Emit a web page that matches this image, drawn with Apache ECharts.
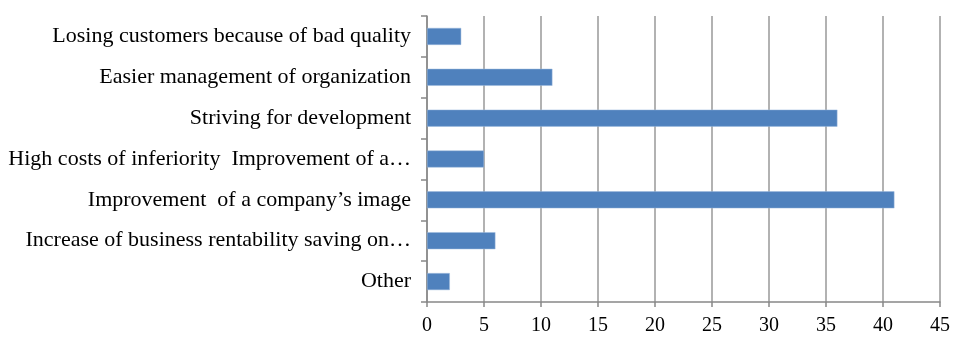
<!DOCTYPE html>
<html>
<head>
<meta charset="utf-8">
<script src="https://cdn.jsdelivr.net/npm/echarts@6/dist/echarts.min.js"></script>
<style>
  html, body { margin: 0; padding: 0; background: #fff; }
  #chart { width: 957px; height: 342px; }
</style>
</head>
<body>
<div id="chart"></div>
<script>
// categories, top to bottom
var categories = [
  'Losing customers because of bad quality',
  'Easier management of organization',
  'Striving for development',
  'High costs of inferiority  Improvement of a…',
  'Improvement  of a company’s image',
  'Increase of business rentability saving on…',
  'Other'
]
var values = [3, 11, 36, 5, 41, 6, 2]
var xMin = 0
var xMax = 45
var xStep = 5

var chart = echarts.init(document.getElementById('chart'))
chart.setOption({
  animation: false,
  textStyle: { fontFamily: 'Liberation Serif' },
  grid: { left: 427, right: 17, top: 16, bottom: 40 },
  xAxis: {
    type: 'value',
    min: xMin,
    max: xMax,
    interval: xStep,
    axisLine: { show: true, lineStyle: { color: '#888', width: 1.5 } },
    axisTick: { show: true, length: 5, lineStyle: { color: '#888', width: 1.5 } },
    axisLabel: { color: '#000', fontSize: 20, margin: 14, fontFamily: 'Liberation Serif' },
    splitLine: { show: true, lineStyle: { color: '#999', width: 1.5 } }
  },
  yAxis: {
    type: 'category',
    inverse: true,
    data: categories,
    axisLine: { show: true, lineStyle: { color: '#888', width: 1.5 } },
    axisTick: { show: true, length: 6, lineStyle: { color: '#888', width: 1.5 } },
    axisLabel: { color: '#000', fontSize: 22, margin: 16, fontFamily: 'Liberation Serif' },
    splitLine: { show: false }
  },
  series: [{
    type: 'bar',
    data: values,
    barWidth: 17,
    itemStyle: { color: '#4F81BD', borderColor: '#9DB9DC', borderWidth: 0.5 }
  }]
})
</script>
</body>
</html>
